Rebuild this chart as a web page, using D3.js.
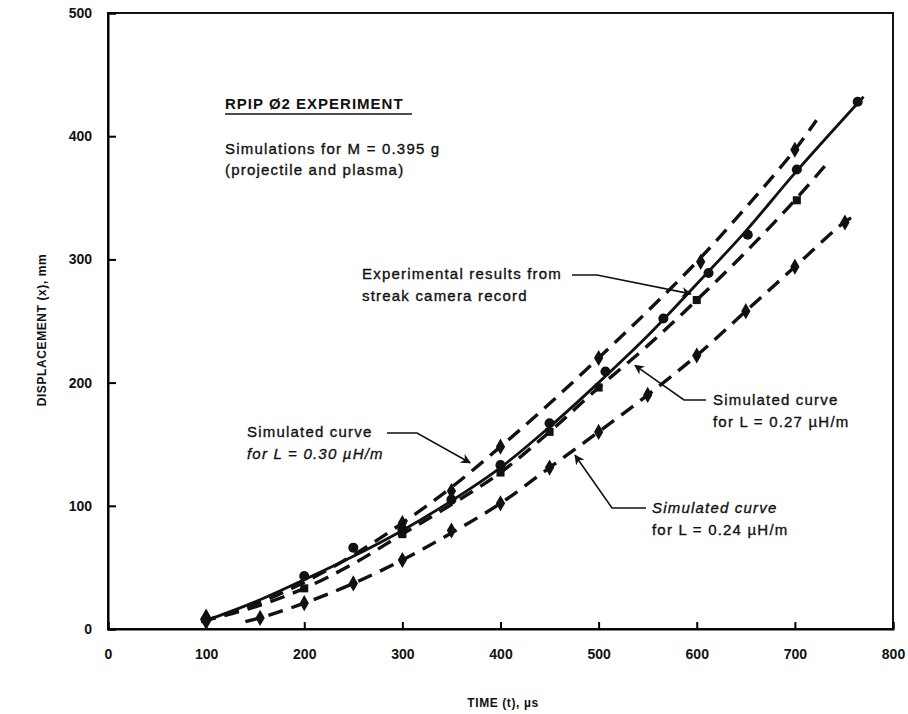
<!DOCTYPE html>
<html>
<head>
<meta charset="utf-8">
<script src="https://cdn.jsdelivr.net/npm/d3@7"></script>
<style>
  body { margin: 0; background: #fff; }
  text { font-family: "Liberation Sans", Arial, sans-serif; fill: #111; }
  .note { stroke: #111; stroke-width: 0.35px; }
</style>
</head>
<body>
<div id="chart"></div>
<script>
// axis ticks
var xTicks = [0, 100, 200, 300, 400, 500, 600, 700, 800];
var yTicks = [0, 100, 200, 300, 400, 500];

// experimental results (solid line + circles)
var expCurve = [[97, 6], [150, 22], [200, 40], [250, 59], [300, 80], [350, 104], [400, 131], [450, 164], [500, 200], [550, 238], [600, 280], [650, 323], [700, 370], [770, 432]];
var expPoints = [[200, 43], [250, 66], [300, 81], [350, 105], [400, 133], [450, 167], [507, 209], [566, 252], [612, 289], [652, 320], [702, 373], [764, 428]];
var startPoint = [[100, 8]];

// simulated L = 0.30 uH/m (upper dashed)
var l30Curve = [[95, 6], [150, 20], [200, 38], [250, 60], [300, 86], [350, 115], [400, 148], [450, 183], [500, 220], [550, 258], [600, 298], [650, 342], [700, 389], [722, 413]];
var l30Points = [[300, 86], [350, 112], [400, 148], [500, 220], [604, 298], [700, 389]];

// simulated L = 0.27 uH/m (middle dashed)
var l27Curve = [[95, 6], [150, 18], [200, 33], [250, 53], [300, 77], [350, 101], [400, 127], [450, 160], [500, 196], [550, 230], [600, 267], [650, 306], [700, 348], [736, 381]];
var l27Points = [[200, 33], [300, 77], [400, 127], [450, 160], [500, 196], [600, 267], [702, 348]];

// simulated L = 0.24 uH/m (lower dashed)
var l24Curve = [[140, 6], [155, 9], [200, 21], [250, 37], [300, 56], [350, 78], [400, 102], [450, 131], [500, 160], [550, 190], [600, 222], [650, 258], [700, 294], [750, 330], [758, 334]];
var l24Points = [[155, 9], [200, 21], [250, 37], [300, 56], [350, 80], [400, 102], [450, 131], [500, 160], [550, 190], [600, 222], [650, 258], [700, 294], [751, 330]];

var width = 908, height = 714;
var margin = {top: 13, right: 15, bottom: 85, left: 108};

var svg = d3.select("#chart")
  .append("svg")
    .attr("width", width)
    .attr("height", height);

var x = d3.scaleLinear()
  .domain([0, 800])
  .range([margin.left, width - margin.right]);

var y = d3.scaleLinear()
  .domain([0, 500])
  .range([height - margin.bottom, margin.top]);

// frame
svg.append("rect")
  .attr("x", x(0))
  .attr("y", y(500))
  .attr("width", x(800) - x(0))
  .attr("height", y(0) - y(500))
  .attr("fill", "none")
  .attr("stroke", "#111")
  .attr("stroke-width", 2);

// X axis
var xAxis = svg.append("g")
  .attr("transform", "translate(0," + y(0) + ")")
  .call(d3.axisBottom(x).tickValues(xTicks).tickSize(-7).tickPadding(20).tickFormat(d3.format("d")));
xAxis.select(".domain").attr("stroke-width", 2);
xAxis.selectAll("line").attr("stroke-width", 2);
xAxis.selectAll("text")
  .style("font-size", "14px")
  .style("font-weight", "bold")
  .attr("fill", "#111");

// Y axis
var yAxis = svg.append("g")
  .attr("transform", "translate(" + x(0) + ",0)")
  .call(d3.axisLeft(y).tickValues(yTicks).tickSize(-8).tickPadding(16).tickFormat(d3.format("d")));
yAxis.select(".domain").attr("stroke-width", 2);
yAxis.selectAll("line").attr("stroke-width", 2);
yAxis.selectAll("text")
  .style("font-size", "14px")
  .style("font-weight", "bold")
  .attr("fill", "#111");

// axis titles
svg.append("text")
  .attr("transform", "translate(46,330)rotate(-90)")
  .attr("text-anchor", "middle")
  .style("font-size", "12px")
  .style("font-weight", "bold")
  .style("letter-spacing", "0.6px")
  .text("DISPLACEMENT (x), mm");

svg.append("text")
  .attr("x", 503)
  .attr("y", 707)
  .attr("text-anchor", "middle")
  .style("font-size", "12px")
  .style("font-weight", "bold")
  .style("letter-spacing", "0.6px")
  .text("TIME (t), \u00b5s");

// curves
var line = d3.line()
  .x(function(d) { return x(d[0]); })
  .y(function(d) { return y(d[1]); })
  .curve(d3.curveCatmullRom);

var series = [
  {curve: expCurve, points: expPoints, dash: null, symbol: d3.symbolCircle, size: 80},
  {curve: l30Curve, points: l30Points, dash: "15,9", symbol: d3.symbolDiamond, size: 75},
  {curve: l27Curve, points: l27Points, dash: "15,9", symbol: d3.symbolSquare, size: 65},
  {curve: l24Curve, points: l24Points, dash: "15,9", symbol: d3.symbolDiamond, size: 75}
];

series.forEach(function(s) {
  svg.append("path")
    .datum(s.curve)
    .attr("d", line)
    .attr("fill", "none")
    .attr("stroke", "#111")
    .attr("stroke-width", s.dash ? 3.4 : 2.8)
    .attr("stroke-dasharray", s.dash);

  svg.selectAll(null)
    .data(s.points)
    .enter()
    .append("path")
    .attr("transform", function(d) { return "translate(" + x(d[0]) + "," + y(d[1]) + ")"; })
    .attr("d", d3.symbol().type(s.symbol).size(s.size))
    .attr("fill", "#111");
});

// common starting point
svg.selectAll(null)
  .data(startPoint)
  .enter()
  .append("path")
  .attr("transform", function(d) { return "translate(" + x(d[0]) + "," + y(d[1]) + ")"; })
  .attr("d", d3.symbol().type(d3.symbolDiamond).size(130))
  .attr("fill", "#111");

// arrow heads
svg.append("defs").append("marker")
  .attr("id", "arrow")
  .attr("viewBox", "0 0 10 10")
  .attr("refX", 9)
  .attr("refY", 5)
  .attr("markerWidth", 10)
  .attr("markerHeight", 10)
  .attr("orient", "auto")
  .attr("markerUnits", "userSpaceOnUse")
  .append("path")
    .attr("d", "M0,0L10,5L0,10L3,5Z")
    .attr("fill", "#111");

// title block
svg.append("text")
  .attr("x", 225).attr("y", 109)
  .style("font-size", "15px")
  .style("font-weight", "bold")
  .style("letter-spacing", "1px")
  .text("RPIP \u00d82 EXPERIMENT");
svg.append("line")
  .attr("x1", 225).attr("x2", 412)
  .attr("y1", 114).attr("y2", 114)
  .attr("stroke", "#111").attr("stroke-width", 1.5);

svg.append("text")
  .attr("class", "note")
  .attr("x", 225).attr("y", 154)
  .style("font-size", "15px")
  .style("letter-spacing", "1.2px")
  .text("Simulations for M = 0.395 g");
svg.append("text")
  .attr("class", "note")
  .attr("x", 225).attr("y", 175)
  .style("font-size", "15px")
  .style("letter-spacing", "1.2px")
  .text("(projectile and plasma)");

// annotations: text position, connector start/bend, arrow tip in data units
var notes = [
  {lines: ["Experimental results from", "streak camera record"], tx: 362, ty: 279, italic: [false, false],
   path: [[572, 275], [597, 275]], tip: [594, 272]},
  {lines: ["Simulated curve", "for L = 0.30 \u00b5H/m"], tx: 247, ty: 437, italic: [false, true],
   path: [[387, 433], [417, 433]], tip: [369, 135]},
  {lines: ["Simulated curve", "for L = 0.27 \u00b5H/m"], tx: 713, ty: 405, italic: [false, false],
   path: [[706, 400], [684, 400]], tip: [537, 214]},
  {lines: ["Simulated curve", "for L = 0.24 \u00b5H/m"], tx: 652, ty: 513, italic: [true, false],
   path: [[646, 508], [612, 508]], tip: [476, 141]}
];

notes.forEach(function(n) {
  n.lines.forEach(function(t, i) {
    svg.append("text")
      .attr("class", "note")
      .attr("x", n.tx)
      .attr("y", n.ty + i * 22)
      .style("font-size", "15px")
      .style("letter-spacing", "1.2px")
      .style("font-style", n.italic[i] ? "italic" : "normal")
      .text(t);
  });
  var pts = n.path.concat([[x(n.tip[0]), y(n.tip[1])]]);
  svg.append("path")
    .attr("d", d3.line()(pts))
    .attr("fill", "none")
    .attr("stroke", "#111")
    .attr("stroke-width", 1.6)
    .attr("marker-end", "url(#arrow)");
});
</script>
</body>
</html>
